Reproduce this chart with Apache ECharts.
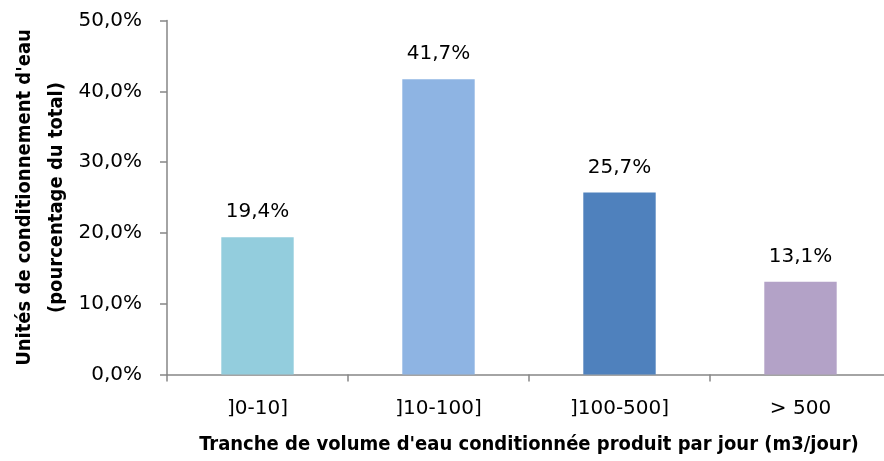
<!DOCTYPE html>
<html>
<head>
<meta charset="utf-8">
<script src="https://cdn.jsdelivr.net/npm/echarts@6/dist/echarts.min.js"></script>
<style>
  html, body { margin: 0; padding: 0; background: #fff; }
  #chart { width: 884px; height: 461px; }
</style>
</head>
<body>
<div id="chart"></div>
<script>
// Share of water packaging units by daily production volume bracket
const categories = [']0-10]', ']10-100]', ']100-500]', '> 500'];
const shares = [19.4, 41.7, 25.7, 13.1];
const barColors = ['#93CDDD', '#8EB4E3', '#4F81BD', '#B3A2C7'];
const yTicks = { min: 0, max: 50, interval: 10 };

const LABEL_FONT = '"DejaVu Sans", sans-serif';
const TITLE_FONT = '"DejaVu Sans Condensed", "Liberation Sans Narrow", sans-serif';
const fmt = v => v.toFixed(1).replace('.', ',') + '%';

const chart = echarts.init(document.getElementById('chart'), null, { renderer: 'canvas' });
chart.setOption({
  animation: false,
  backgroundColor: '#ffffff',
  grid: { left: 167, right: -7, top: 20.5, bottom: 86.5, containLabel: false, outerBoundsMode: 'none' },
  xAxis: {
    type: 'category',
    data: categories,
    name: "Tranche de volume d'eau conditionnée produit par jour (m3/jour)",
    nameLocation: 'middle',
    nameGap: 60,
    nameMoveOverlap: false,
    nameTextStyle: { fontFamily: TITLE_FONT, fontSize: 20, fontWeight: 'bold', color: '#000' },
    axisLine: { lineStyle: { color: '#868686', width: 1.5 } },
    axisTick: { show: true, alignWithLabel: false, length: 7, lineStyle: { color: '#868686', width: 1.5 } },
    axisLabel: { fontFamily: LABEL_FONT, fontSize: 20, color: '#000', margin: 24 }
  },
  yAxis: {
    type: 'value',
    min: yTicks.min,
    max: yTicks.max,
    interval: yTicks.interval,
    name: "Unités de conditionnement d'eau\n(pourcentage du total)",
    nameLocation: 'middle',
    nameRotate: 90,
    nameGap: 94,
    nameMoveOverlap: false,
    nameTextStyle: { fontFamily: TITLE_FONT, fontSize: 20, fontWeight: 'bold', color: '#000', lineHeight: 32 },
    splitLine: { show: false },
    axisLine: { show: true, lineStyle: { color: '#868686', width: 1.5 } },
    axisTick: { show: true, length: 7, lineStyle: { color: '#868686', width: 1.5 } },
    axisLabel: { fontFamily: LABEL_FONT, fontSize: 20, color: '#000', margin: 25, formatter: v => fmt(v) }
  },
  series: [{
    type: 'bar',
    barWidth: '40%',
    data: shares.map((v, i) => ({ value: v, itemStyle: { color: barColors[i] } })),
    label: {
      show: true,
      position: 'top',
      distance: 15,
      fontFamily: LABEL_FONT,
      fontSize: 20,
      color: '#000',
      formatter: p => fmt(p.value)
    }
  }]
});
</script>
</body>
</html>
